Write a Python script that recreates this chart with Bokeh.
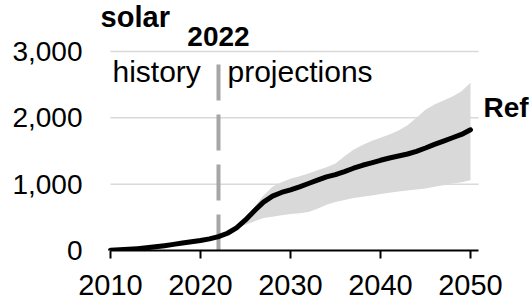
from bokeh.plotting import figure
from bokeh.models import FixedTicker, NumeralTickFormatter, Label, Range1d
from bokeh.embed import file_html
from bokeh.resources import INLINE

# ---- data ----
years = list(range(2010, 2051))
ref = [5, 10, 18, 28, 40, 55, 72, 92, 112, 132, 150, 175, 210, 260, 340, 460,
       600, 730, 820, 875, 915, 960, 1010, 1060, 1110, 1145, 1190, 1240, 1285,
       1320, 1360, 1395, 1425, 1455, 1495, 1545, 1600, 1650, 1700, 1750, 1820]

band_years = list(range(2022, 2051))
band_upper = [210, 262, 345, 480, 660, 830, 960, 1030, 1080, 1120, 1160, 1210,
              1255, 1310, 1420, 1520, 1590, 1650, 1700, 1750, 1810, 1890, 2000,
              2120, 2200, 2260, 2320, 2400, 2530]
band_lower = [210, 258, 330, 390, 440, 490, 510, 530, 550, 560, 580, 630, 690,
              730, 760, 790, 810, 830, 850, 870, 890, 905, 920, 935, 960, 985,
              1010, 1030, 1060]

x_ticks = [2010, 2020, 2030, 2040, 2050]
y_ticks = [0, 1000, 2000, 3000]
grid_values = [1000, 2000, 3000]
divider_year = 2022
divider_top = 2865

# layout of the plotting area (axis drawn 2010..x_axis_end)
x_axis_end = 2050.9
x_start, x_end = 2008.667, 2056.89
y_end = 3000 * 250 / 199

FONT = "Liberation Sans"

p = figure(width=532, height=300, output_backend="svg", toolbar_location=None,
           x_range=Range1d(x_start, x_end), y_range=Range1d(0, y_end))
p.min_border_left = 98
p.min_border_right = 0
p.min_border_top = 0
p.min_border_bottom = 50
p.outline_line_color = None
p.background_fill_color = "white"
p.border_fill_color = "white"
p.grid.visible = False

# grid lines (limited to the axis extent)
p.segment(x0=[x_ticks[0]] * len(grid_values), y0=grid_values,
          x1=[x_axis_end] * len(grid_values), y1=grid_values,
          line_color="#d9d9d9", line_width=1.5)

p.varea(x=band_years, y1=band_lower, y2=band_upper, fill_color="#d9d9d9")
p.segment(x0=[divider_year], y0=[0], x1=[divider_year], y1=[divider_top],
          line_color="#a6a6a6", line_width=4, line_dash="36 14")
p.line(years, ref, line_color="black", line_width=5, line_join="round",
       line_cap="round")

# x axis
xa = p.xaxis[0]
xa.ticker = FixedTicker(ticks=x_ticks)
xa.bounds = (x_ticks[0], x_axis_end)
xa.axis_line_color = "black"
xa.axis_line_width = 2
xa.major_tick_line_color = "black"
xa.major_tick_line_width = 2
xa.major_tick_out = 8
xa.major_tick_in = 0
xa.minor_tick_line_color = None
xa.major_label_text_font = FONT
xa.major_label_text_font_size = "29px"
xa.major_label_text_color = "black"
xa.major_label_standoff = 16

# y axis
ya = p.yaxis[0]
ya.ticker = FixedTicker(ticks=y_ticks)
ya.formatter = NumeralTickFormatter(format="0,0")
ya.axis_line_color = None
ya.major_tick_line_color = None
ya.minor_tick_line_color = None
ya.major_tick_out = 0
ya.major_tick_in = 0
ya.major_label_standoff = 16
ya.major_label_text_font = FONT
ya.major_label_text_font_size = "28px"
ya.major_label_text_color = "black"

def lab(x, y, text, bold=False, align="left", size="28px"):
    p.add_layout(Label(x=x, y=y, text=text, text_font=FONT,
                       text_font_size=size,
                       text_font_style="bold" if bold else "normal",
                       text_align=align, text_baseline="alphabetic",
                       text_color="black"))

lab(2008.9, 3520, "solar", bold=True, size="29px")
lab(divider_year, 3230, "2022", bold=True, align="center")
lab(2010.22, 2700, "history", size="30px")
lab(2023.0, 2700, "projections", size="30px")
lab(2051.44, 2160, "Ref", bold=True)

open("out.html", "w").write(file_html(p, INLINE))
